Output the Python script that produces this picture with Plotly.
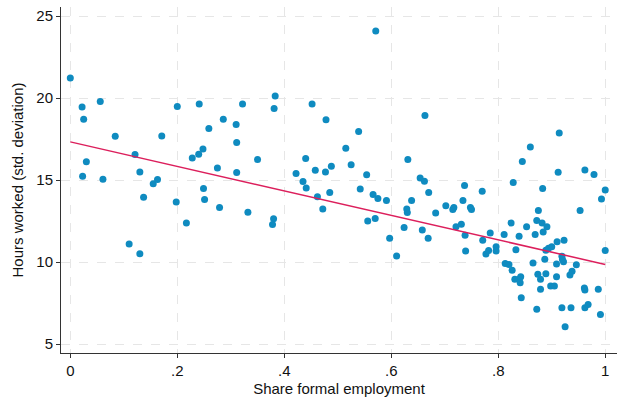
import plotly.graph_objects as go

share_formal = [
    0.000, 0.022, 0.025, 0.030, 0.023, 0.056, 0.061, 0.084, 0.121, 0.130,
    0.137, 0.155, 0.163, 0.171, 0.200, 0.198, 0.228, 0.241, 0.240, 0.248,
    0.249, 0.251, 0.259, 0.275, 0.286, 0.310, 0.311, 0.311, 0.322, 0.350,
    0.381, 0.383, 0.422, 0.435, 0.440, 0.441, 0.458, 0.452, 0.462, 0.110,
    0.130, 0.217, 0.279, 0.332, 0.380, 0.378, 0.571, 0.478, 0.539, 0.515,
    0.477, 0.488, 0.525, 0.554, 0.485, 0.542, 0.566, 0.575, 0.591, 0.663,
    0.631, 0.654, 0.662, 0.670, 0.638, 0.737, 0.770, 0.734, 0.828, 0.845,
    0.860, 0.914, 0.883, 0.912, 0.962, 0.979, 1.000, 0.993, 0.472, 0.556,
    0.570, 0.597, 0.610, 0.624, 0.629, 0.630, 0.658, 0.669, 0.683, 0.702,
    0.715, 0.717, 0.721, 0.731, 0.738, 0.739, 0.748, 0.750, 0.771, 0.777,
    0.782, 0.785, 0.796, 0.796, 0.811, 0.813, 0.820, 0.826, 0.824, 0.833,
    0.831, 0.839, 0.841, 0.842, 0.843, 0.839, 0.853, 0.865, 0.869, 0.872,
    0.875, 0.872, 0.874, 0.879, 0.879, 0.882, 0.884, 0.889, 0.887, 0.891,
    0.889, 0.894, 0.898, 0.905, 0.900, 0.909, 0.909, 0.910, 0.919, 0.923,
    0.919, 0.922, 0.925, 0.920, 0.936, 0.934, 0.938, 0.946, 0.953, 0.961,
    0.962, 0.962, 0.968, 0.987, 0.991, 1.000,
]
hours_sd = [
    21.22, 19.46, 18.71, 16.11, 15.24, 19.79, 15.05, 17.67, 16.56, 15.50,
    13.96, 14.77, 15.04, 17.69, 19.48, 13.67, 16.35, 19.64, 16.58, 16.90,
    14.49, 13.82, 18.14, 15.74, 18.71, 18.39, 17.29, 15.46, 19.64, 16.25,
    19.36, 20.13, 15.40, 14.91, 16.32, 14.52, 15.60, 19.64, 13.98, 11.11,
    10.51, 12.39, 13.33, 13.04, 12.64, 12.30, 24.09, 18.67, 17.96, 16.94,
    15.50, 15.85, 15.93, 15.32, 14.24, 14.46, 14.12, 13.88, 13.75, 18.93,
    16.25, 15.12, 14.93, 14.24, 13.75, 14.67, 14.32, 13.75, 14.85, 16.13,
    17.02, 17.87, 14.49, 15.48, 15.62, 15.34, 14.40, 13.84, 13.23, 12.50,
    12.66, 11.46, 10.38, 12.11, 13.23, 13.03, 11.95, 11.46, 13.00, 13.43,
    13.21, 13.33, 12.15, 12.31, 11.64, 10.67, 13.33, 13.21, 11.34, 10.49,
    10.71, 11.78, 10.93, 10.67, 11.69, 9.92, 9.86, 9.51, 12.39, 10.75,
    8.95, 8.95, 8.74, 9.11, 7.83, 11.58, 12.15, 9.94, 11.69, 12.54,
    13.15, 7.12, 9.26, 8.96, 8.35, 12.39, 11.84, 9.29, 10.18, 12.15,
    10.73, 10.85, 8.54, 8.54, 10.93, 9.88, 9.11, 11.24, 7.22, 11.34,
    10.35, 10.02, 6.06, 10.16, 7.22, 9.21, 9.45, 9.84, 13.15, 8.42,
    8.30, 7.22, 7.42, 8.34, 6.81, 10.71,
]

fit_x = [0.0, 1.0]
fit_y = [17.33, 9.86]

x_tickvals = [0, 0.2, 0.4, 0.6, 0.8, 1.0]
x_ticktext = ["0", ".2", ".4", ".6", ".8", "1"]
y_tickvals = [5, 10, 15, 20, 25]
y_ticktext = ["5", "10", "15", "20", "25"]

FONT = "Liberation Sans, Arial, Helvetica, sans-serif"

fig = go.Figure()
fig.add_trace(go.Scatter(
    x=share_formal, y=hours_sd, mode="markers",
    marker=dict(color="#0f8bc0", size=7, line=dict(width=0)),
    showlegend=False, hoverinfo="x+y",
))
fig.add_trace(go.Scatter(
    x=fit_x, y=fit_y, mode="lines",
    line=dict(color="#dc1f5c", width=1.5),
    showlegend=False,
))

axis_common = dict(
    showgrid=True, gridcolor="#e6e6e6", gridwidth=1, griddash="dash",
    zeroline=False, showline=True, linecolor="#333333", linewidth=1,
    ticks="outside", ticklen=4, tickcolor="#333333", tickwidth=1,
    tickfont=dict(family=FONT, size=15, color="#111111"),
    title_font=dict(family=FONT, size=15, color="#111111"),
    automargin=False,
)

fig.update_layout(
    width=617, height=400,
    margin=dict(l=61, r=0, t=7, b=47),
    paper_bgcolor="white", plot_bgcolor="white",
    font=dict(family=FONT, size=15, color="#111111"),
    xaxis=dict(
        range=[-0.0174, 1.022],
        tickvals=x_tickvals, ticktext=x_ticktext,
        title=dict(text="Share formal employment", standoff=5),
        **axis_common,
    ),
    yaxis=dict(
        range=[4.46, 25.55],
        tickvals=y_tickvals, ticktext=y_ticktext,
        title=dict(text="Hours worked (std. deviation)", standoff=9),
        **axis_common,
    ),
)

fig.write_html(
    "out.html",
    config={"displayModeBar": False},
    post_script="document.body.style.margin='0';document.body.style.overflow='hidden';",
)
